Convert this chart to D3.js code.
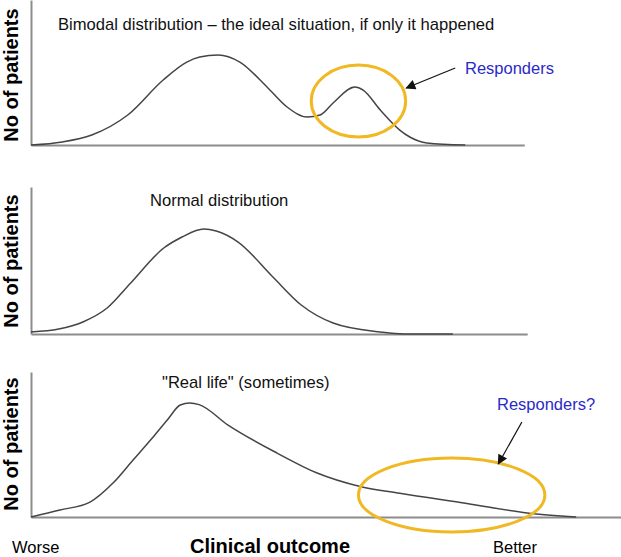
<!DOCTYPE html>
<html>
<head>
<meta charset="utf-8">
<script src="https://cdn.jsdelivr.net/npm/d3@7"></script>
<style>
  body { margin: 0; background: #fff; }
  text { font-family: "Liberation Sans", Arial, sans-serif; }
</style>
</head>
<body>
<div id="chart"></div>
<script>
// outcome runs 0 (worse) .. 100 (better), counts 0..100 per panel
const bimodalX = [0, 5.3, 10.3, 16.4, 22.4, 26.4, 28.6, 31.7, 35.4, 40.0, 43.4, 46.8, 49.0, 51.2, 54.9, 56.3, 59.2, 62.5, 64.2, 67.1, 73.6];
const bimodalY = [0, 2.1, 6.9, 20.7, 44.8, 57.2, 60.7, 62.1, 57.2, 40.0, 26.2, 19.3, 20.7, 29.0, 40.0, 37.9, 24.1, 10.3, 5.5, 1.4, 0];

const normalX = [0, 4.7, 8.8, 12.9, 16.9, 22.5, 25.6, 29.3, 31.4, 35.1, 41.0, 45.8, 51.2, 59.2, 63.2, 71.5];
const normalY = [1.4, 3.4, 8.3, 17.9, 35.2, 59.3, 66.9, 72.4, 71.0, 63.4, 39.3, 20.0, 7.6, 1.4, 0, 0];

const realX = [0, 4.9, 10.0, 13.9, 17.3, 20.7, 23.1, 25.3, 26.9, 28.5, 33.4, 41.7, 48.5, 55.8, 62.5, 73.9, 84.1, 92.4];
const realY = [0, 4.8, 10.3, 23.4, 39.3, 55.2, 66.9, 77.2, 78.6, 77.5, 63.4, 44.1, 30.3, 21.0, 16.3, 9.3, 2.8, 0];

const panelTitles = ["Bimodal distribution \u2013 the ideal situation, if only it happened", "Normal distribution", "\"Real life\" (sometimes)"];
const yLabel = "No of patients";
const xLabel = "Clinical outcome";
const xEnds = ["Worse", "Better"];
const calloutText = ["Responders", "Responders?"];

const width = 621, height = 557;
const left = 31;

const svg = d3.select('#chart').append('svg')
  .attr('width', width)
  .attr('height', height);

const x = d3.scaleLinear().domain([0, 100]).range([left, left + 590]);

// each panel: baseline, top, where the x axis line stops
const panels = [
  {xs: bimodalX, ys: bimodalY, base: 145, top: 0, axisEnd: 83.6, title: [58, 30], labelY: 75},
  {xs: normalX, ys: normalY, base: 334, top: 189, axisEnd: 84.1, title: [150, 206], labelY: 261},
  {xs: realX, ys: realY, base: 517, top: 372, axisEnd: 100, title: [162, 388], labelY: 444}
];

const line = d3.line().curve(d3.curveMonotoneX);

panels.forEach((p, i) => {
  p.y = d3.scaleLinear().domain([0, 100]).range([p.base, p.top]);

  const xAxis = svg.append('g')
    .attr('transform', `translate(0, ${p.base})`)
    .call(d3.axisBottom(x.copy().domain([0, p.axisEnd]).range([left, x(p.axisEnd)])).ticks(0).tickSizeOuter(0));
  const yAxis = svg.append('g')
    .attr('transform', `translate(${left}, 0)`)
    .call(d3.axisLeft(p.y.copy().range([p.base, i == 1 ? 187 : p.top])).ticks(0).tickSizeOuter(0));
  svg.selectAll('.domain').attr('stroke', '#8c8c8c').attr('stroke-width', 2);

  svg.append('path')
    .attr('d', line(p.xs.map((v, j) => [x(v), p.y(p.ys[j])])))
    .attr('fill', 'none')
    .attr('stroke', '#454545')
    .attr('stroke-width', 1.5);

  svg.append('text')
    .attr('x', p.title[0])
    .attr('y', p.title[1])
    .attr('font-size', '16.6px')
    .attr('fill', '#111')
    .text(panelTitles[i]);

  svg.append('text')
    .attr('transform', `translate(18, ${p.labelY}) rotate(-90)`)
    .attr('text-anchor', 'middle')
    .attr('font-size', '20px')
    .attr('font-weight', 'bold')
    .text(yLabel);
});

// yellow rings round the responders + arrows
const rings = [
  {panel: 0, cx: 55.5, cy: 30.3, rx: 8.0, ry: 24.8},
  {panel: 2, cx: 71.3, cy: 15.2, rx: 15.8, ry: 25.5}
];
rings.forEach(r => {
  const y = panels[r.panel].y;
  svg.append('ellipse')
    .attr('cx', x(r.cx))
    .attr('cy', y(r.cy))
    .attr('rx', x(r.cx + r.rx) - x(r.cx))
    .attr('ry', y(0) - y(r.ry))
    .attr('fill', 'none')
    .attr('stroke', '#f0b823')
    .attr('stroke-width', 3);
});

svg.append('defs').append('marker')
  .attr('id', 'head')
  .attr('viewBox', '0 0 10 10')
  .attr('refX', 9).attr('refY', 5)
  .attr('markerWidth', 13).attr('markerHeight', 10)
  .attr('markerUnits', 'userSpaceOnUse')
  .attr('orient', 'auto')
  .append('path')
  .attr('d', 'M0,0 L10,5 L0,10 z')
  .attr('fill', '#111');

const arrows = [
  {panel: 0, from: [71.9, 53.1], to: [63.6, 39.3], label: [465, 74]},
  {panel: 2, from: [83.2, 65.5], to: [79.2, 36.6], label: [497, 410]}
];
arrows.forEach((a, i) => {
  const y = panels[a.panel].y;
  svg.append('line')
    .attr('x1', x(a.from[0])).attr('y1', y(a.from[1]))
    .attr('x2', x(a.to[0])).attr('y2', y(a.to[1]))
    .attr('stroke', '#111')
    .attr('stroke-width', 1.2)
    .attr('marker-end', 'url(#head)');
  svg.append('text')
    .attr('x', a.label[0]).attr('y', a.label[1])
    .attr('font-size', '16.5px')
    .attr('fill', '#2a2ac8')
    .text(calloutText[i]);
});

// bottom labels
svg.append('text').attr('x', 12).attr('y', 553).attr('font-size', '16.5px').text(xEnds[0]);
svg.append('text').attr('x', 493).attr('y', 553).attr('font-size', '16.5px').text(xEnds[1]);
svg.append('text').attr('x', 190).attr('y', 553).attr('font-size', '20px').attr('font-weight', 'bold').text(xLabel);
</script>
</body>
</html>
